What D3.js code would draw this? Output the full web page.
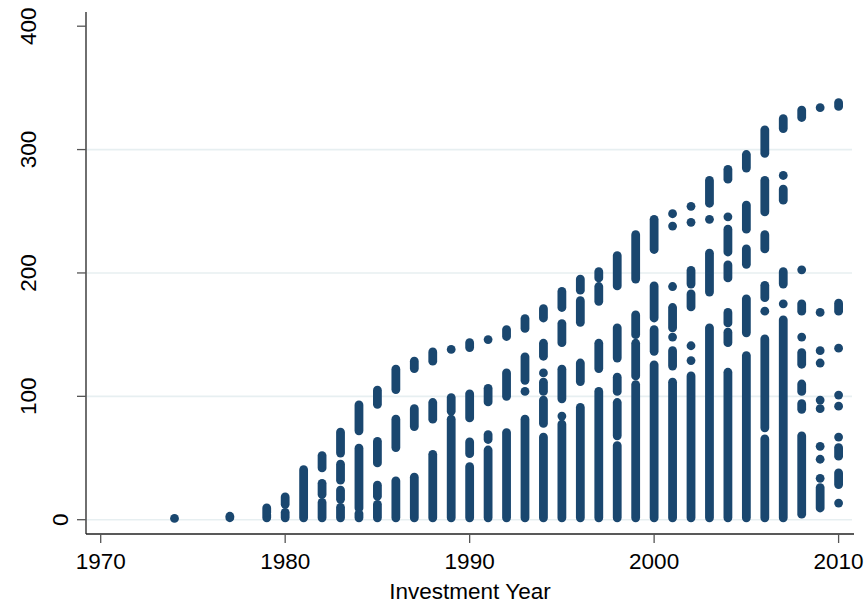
<!DOCTYPE html>
<html>
<head>
<meta charset="utf-8">
<script src="https://cdn.jsdelivr.net/npm/d3@7"></script>
<style>
  html, body { margin: 0; padding: 0; background: #fff; }
  svg { display: block; font-family: "Liberation Sans", Arial, sans-serif; }
</style>
</head>
<body>
<div id="chart"></div>
<script>
// Investment years that have at least one observation
const investYears = [1974, 1977, 1979, 1980, 1981, 1982, 1983, 1984, 1985, 1986,
  1987, 1988, 1989, 1990, 1991, 1992, 1993, 1994, 1995, 1996, 1997, 1998, 1999,
  2000, 2001, 2002, 2003, 2004, 2005, 2006, 2007, 2008, 2009, 2010];

const valueRanges = [
  [[1, 1]],                                                         // 1974
  [[1.6, 2.8]],                                                     // 1977
  [[1.5, 4], [6, 9.5]],                                             // 1979
  [[1.5, 6], [12.5, 18.5]],                                         // 1980
  [[1.5, 40.5]],                                                    // 1981
  [[1.5, 14], [20.5, 29.5], [42, 52]],                              // 1982
  [[1.5, 10], [16.5, 24], [32, 45], [54, 71]],                      // 1983
  [[1.5, 5], [9.5, 58], [72, 93]],                                  // 1984
  [[1.5, 12.5], [19, 28], [46, 63.5], [93.5, 105]],                 // 1985
  [[1.5, 31.5], [58.5, 81.5], [105.5, 122]],                        // 1986
  [[1.5, 34.5], [75.5, 90], [122.5, 128.5]],                        // 1987
  [[1.5, 53], [81.5, 95], [128.5, 136]],                            // 1988
  [[1.5, 81.5], [88, 99], [138, 138]],                              // 1989
  [[1.5, 43], [53.5, 63], [82.5, 102], [139.5, 143.5]],             // 1990
  [[1.5, 56.5], [65, 69], [95.5, 106.5], [146, 146]],               // 1991
  [[1.5, 70.5], [100, 119], [148.5, 154]],                          // 1992
  [[1.5, 81.5], [104, 104], [113, 132], [155, 163]],                // 1993
  [[1.5, 67], [78, 97], [104, 111.5], [119, 119], [132.5, 143], [163.5, 171]], // 1994
  [[1.5, 77.5], [84, 84], [98, 122], [143.5, 159], [172, 185]],     // 1995
  [[1.5, 91], [112, 127], [160, 177.5], [186, 195]],                // 1996
  [[1.5, 104], [122.5, 143], [177, 189], [196, 201]],               // 1997
  [[1.5, 60], [68, 95], [104, 115.5], [131, 155.5], [189.5, 214]],  // 1998
  [[1.5, 109.5], [116.5, 143], [150, 166], [195, 231]],             // 1999
  [[1.5, 125.5], [136.5, 154], [163.5, 189.5], [219, 243.5]],       // 2000
  [[1.5, 111.5], [124.5, 137], [148, 148], [155.5, 172], [189, 189], [238, 238], [248, 248]], // 2001
  [[1.5, 116.5], [129, 129], [141, 141], [172.5, 183], [191, 202], [241, 241], [254, 254]],   // 2002
  [[1.5, 155.5], [184.5, 216], [243.5, 243.5], [256.5, 275]],       // 2003
  [[1.5, 119.5], [143.5, 152], [159.5, 168], [196, 206.5], [217, 235.5], [245.5, 245.5], [276, 284]], // 2004
  [[1.5, 133], [151.5, 179], [207, 219.5], [235.5, 255], [285, 296]], // 2005
  [[1.5, 65.5], [74.5, 146.5], [169, 169], [180, 190], [219.5, 231], [249.5, 275], [297, 316]], // 2006
  [[1.5, 162], [175, 175], [191, 201], [259, 268], [279, 279], [317, 325]], // 2007
  [[4.5, 68], [89.5, 94], [104, 110], [126, 135.5], [148, 148], [169, 175], [202.5, 202.5], [326, 332]], // 2008
  [[9.5, 26], [33.5, 33.5], [49, 49], [59.5, 59.5], [90, 90], [97, 97], [127, 127], [137, 137], [168, 168], [334, 334]], // 2009
  [[13.5, 13.5], [28.5, 38], [51.5, 58.5], [67, 67], [92, 92], [101, 101], [139, 139], [169, 175.5], [335, 338]] // 2010
];

const xTicks = [1970, 1980, 1990, 2000, 2010];
const yTicks = [0, 100, 200, 300, 400];
const yGrid = [0, 100, 200, 300];
const xTitle = "Investment Year";

const width = 864, height = 604;
const navy = "#1a476f";
const r = 4.4;
const fontSize = 22.5;

const svg = d3.select("#chart").append("svg")
  .attr("width", width)
  .attr("height", height);

// scales (plot region 86..854 x 12..534)
const x = d3.scaleLinear().domain([1970, 2010]).range([100.7, 838.6]);
const y = d3.scaleLinear().domain([0, 400]).range([519.7, 26.2]);
const plotLeft = 86, plotRight = 854, plotTop = 12, plotBottom = 534;

// gridlines
svg.append("g")
  .selectAll("line")
  .data(yGrid)
  .join("line")
  .attr("x1", plotLeft + 1)
  .attr("x2", plotRight - 2)
  .attr("y1", d => y(d))
  .attr("y2", d => y(d))
  .attr("stroke", "#e7eff1")
  .attr("stroke-width", 1.6);

// flatten to segments
const segs = [];
investYears.forEach((yr, i) => {
  valueRanges[i].forEach(([lo, hi]) => segs.push({ yr, lo, hi }));
});

const marks = svg.append("g").attr("fill", navy).attr("stroke", navy);

marks.selectAll("line")
  .data(segs.filter(d => d.hi > d.lo))
  .join("line")
  .attr("x1", d => x(d.yr))
  .attr("x2", d => x(d.yr))
  .attr("y1", d => y(d.lo))
  .attr("y2", d => y(d.hi))
  .attr("stroke-width", r * 2)
  .attr("stroke-linecap", "round");

marks.selectAll("circle")
  .data(segs.filter(d => d.hi === d.lo))
  .join("circle")
  .attr("cx", d => x(d.yr))
  .attr("cy", d => y(d.lo))
  .attr("r", r)
  .attr("stroke", "none");

// y axis
const yAxis = svg.append("g");
yAxis.append("line")
  .attr("x1", plotLeft).attr("x2", plotLeft)
  .attr("y1", plotTop).attr("y2", plotBottom)
  .attr("stroke", "#222").attr("stroke-width", 1.3);
yAxis.selectAll(".tick")
  .data(yTicks)
  .join("line")
  .attr("x1", plotLeft - 9).attr("x2", plotLeft)
  .attr("y1", d => y(d)).attr("y2", d => y(d))
  .attr("stroke", "#555").attr("stroke-width", 1.3);
yAxis.selectAll("text")
  .data(yTicks)
  .join("text")
  .attr("transform", d => {
    const s = String(d);
    const bx = 68.3 - (s.length - 1) * 16.4;
    return `translate(${bx},${y(d)}) rotate(-90)`;
  })
  .attr("text-anchor", "middle")
  .attr("font-size", fontSize)
  .attr("fill", "#000")
  .text(d => d);

// x axis
const xAxis = svg.append("g");
xAxis.append("line")
  .attr("x1", plotLeft).attr("x2", plotRight)
  .attr("y1", plotBottom).attr("y2", plotBottom)
  .attr("stroke", "#222").attr("stroke-width", 1.3);
xAxis.selectAll(".tick")
  .data(xTicks)
  .join("line")
  .attr("x1", d => x(d)).attr("x2", d => x(d))
  .attr("y1", plotBottom).attr("y2", plotBottom + 9)
  .attr("stroke", "#555").attr("stroke-width", 1.3);
xAxis.selectAll("text")
  .data(xTicks)
  .join("text")
  .attr("x", d => x(d))
  .attr("y", 568.5)
  .attr("text-anchor", "middle")
  .attr("font-size", fontSize)
  .attr("fill", "#000")
  .text(d => d);

svg.append("text")
  .attr("x", (plotLeft + plotRight) / 2)
  .attr("y", 599)
  .attr("text-anchor", "middle")
  .attr("font-size", fontSize)
  .attr("fill", "#000")
  .text(xTitle);
</script>
</body>
</html>
